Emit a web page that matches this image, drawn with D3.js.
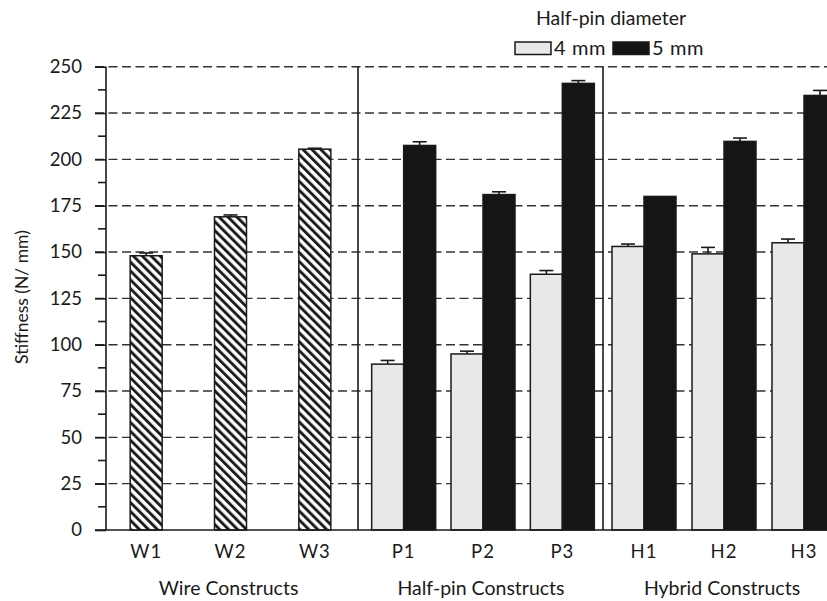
<!DOCTYPE html>
<html lang="en">
<head>
  <meta charset="UTF-8">
  <title>Stiffness by construct</title>
  <script src="https://d3js.org/d3.v7.min.js"></script>
  <style>
    body { margin: 0; background: #fff; }
    svg { display: block; font-family: Lato, "Open Sans", sans-serif; }
  </style>
</head>
<body>
  <div id="chart"></div>
  <script>
    // values
    const groups = ["Wire Constructs", "Half-pin Constructs", "Hybrid Constructs"];
    const series = ["4 mm", "5 mm"];

    const wireLabels = ["W1", "W2", "W3"];
    const wireValues = [148, 169, 205.5];
    const wireErrors = [1.5, 1, 0.5];

    const pinLabels = ["P1", "P2", "P3"];
    const pin4 = [89.5, 95, 138];
    const pin4Err = [2, 1.5, 2];
    const pin5 = [207.5, 181, 241];
    const pin5Err = [2, 1.5, 1.5];

    const hybridLabels = ["H1", "H2", "H3"];
    const hyb4 = [153, 149, 155];
    const hyb4Err = [1.3, 3.5, 2];
    const hyb5 = [180, 209.7, 234.5];
    const hyb5Err = [0, 1.8, 2.7];

    const yTicks = d3.range(0, 251, 25);
    const yMinor = d3.range(12.5, 250, 25);

    const width = 827, height = 601;
    const svg = d3.select("#chart").append("svg").attr("width", width).attr("height", height);

    const y = d3.scaleLinear().domain([0, 250]).range([530, 66.7]);

    // panel layout (pixel ranges for each group's categories, and its axis line)
    const panelRange = [[104, 357], [364, 602], [604, 844]];
    const panelAxis = [106, 358, 603];
    const barW = 32;
    const ink = "#1a1a1a";
    const fs = 18.5;

    const defs = svg.append("defs");
    const pat = defs.append("pattern").attr("id", "hatch")
      .attr("patternUnits", "userSpaceOnUse").attr("width", 6.3).attr("height", 6.3)
      .attr("patternTransform", "rotate(-45)");
    pat.append("rect").attr("width", 6.3).attr("height", 6.3).attr("fill", "#fff");
    pat.append("line").attr("x1", 1.5).attr("x2", 1.5).attr("y1", 0).attr("y2", 6.3)
      .attr("stroke", ink).attr("stroke-width", 2.9);

    // dashed gridlines
    svg.append("g").selectAll("line").data(yTicks.filter(d => d > 0)).join("line")
      .attr("x1", 95).attr("x2", width)
      .attr("y1", d => y(d)).attr("y2", d => y(d))
      .attr("stroke", "#333").attr("stroke-width", 1.4).attr("stroke-dasharray", "9,4.5");

    const panels = [
      { labels: wireLabels, data: [{ key: null, values: wireValues, errs: wireErrors }] },
      { labels: pinLabels, data: [{ key: "4 mm", values: pin4, errs: pin4Err }, { key: "5 mm", values: pin5, errs: pin5Err }] },
      { labels: hybridLabels, data: [{ key: "4 mm", values: hyb4, errs: hyb4Err }, { key: "5 mm", values: hyb5, errs: hyb5Err }] }
    ];

    const sub = d3.scaleBand().domain(series).range([-barW, barW]);
    const fillFor = k => k === null ? "url(#hatch)" : (k === "4 mm" ? "#e8e8e8" : "#151515");

    panels.forEach((p, pi) => {
      const x = d3.scaleBand().domain(p.labels).range(panelRange[pi]);
      const cx = d => x(d) + x.bandwidth() / 2;
      const g = svg.append("g");

      const bars = [];
      p.data.forEach(s => {
        p.labels.forEach((lab, i) => {
          const left = s.key === null ? cx(lab) - barW / 2 : cx(lab) + sub(s.key);
          bars.push({ key: s.key, x: left, v: s.values[i], e: s.errs[i] });
        });
      });

      // error bars (upper only)
      const eb = g.append("g").selectAll("g").data(bars.filter(d => d.e > 0)).join("g")
        .attr("stroke", ink).attr("stroke-width", 1.6);
      eb.append("line").attr("x1", d => d.x + barW / 2).attr("x2", d => d.x + barW / 2)
        .attr("y1", d => y(d.v)).attr("y2", d => y(d.v + d.e));
      eb.append("line").attr("x1", d => d.x + barW / 2 - 7).attr("x2", d => d.x + barW / 2 + 7)
        .attr("y1", d => y(d.v + d.e)).attr("y2", d => y(d.v + d.e));

      g.append("g").selectAll("rect").data(bars).join("rect")
        .attr("x", d => d.x).attr("width", barW)
        .attr("y", d => y(d.v)).attr("height", d => y(0) - y(d.v))
        .attr("fill", d => fillFor(d.key))
        .attr("stroke", ink).attr("stroke-width", 1.5);

      // panel axis line
      svg.append("line").attr("x1", panelAxis[pi]).attr("x2", panelAxis[pi])
        .attr("y1", y(250)).attr("y2", y(0)).attr("stroke", ink).attr("stroke-width", 1.6);

      // category labels
      svg.append("g").selectAll("text").data(p.labels).join("text")
        .attr("x", d => cx(d)).attr("y", 558).attr("text-anchor", "middle")
        .attr("font-size", fs).attr("letter-spacing", 1).attr("fill", ink).text(d => d);

      svg.append("text").attr("x", cx(p.labels[1]) - 2).attr("y", 595)
        .attr("text-anchor", "middle").attr("font-size", 19.5).attr("fill", ink).text(groups[pi]);
    });

    // baseline
    svg.append("line").attr("x1", 95).attr("x2", width).attr("y1", y(0)).attr("y2", y(0))
      .attr("stroke", ink).attr("stroke-width", 1.6);

    // y axis of first panel
    const yAxis = svg.append("g").attr("transform", `translate(${panelAxis[0]},0)`)
      .call(d3.axisLeft(y).tickValues(yTicks).tickSize(11).tickPadding(13));
    yAxis.select(".domain").remove();
    yAxis.selectAll(".tick line").attr("stroke", ink).attr("stroke-width", 1.6);
    yAxis.selectAll(".tick text").attr("font-size", fs).attr("font-family", "Lato, sans-serif").attr("fill", ink);
    svg.append("g").selectAll("line").data(yMinor).join("line")
      .attr("x1", panelAxis[0] - 8).attr("x2", panelAxis[0])
      .attr("y1", d => y(d)).attr("y2", d => y(d)).attr("stroke", ink).attr("stroke-width", 1.6);

    svg.append("text").attr("transform", "translate(28,297) rotate(-90)")
      .attr("text-anchor", "middle").attr("font-size", 17.5).attr("fill", ink).text("Stiffness (N/ mm)");

    // legend
    svg.append("text").attr("x", 611).attr("y", 25).attr("text-anchor", "middle")
      .attr("font-size", 19.5).attr("fill", ink).text("Half-pin diameter");
    const leg = svg.append("g").selectAll("g").data(series).join("g")
      .attr("transform", (d, i) => `translate(${515 + i * 98},42)`);
    leg.append("rect").attr("width", 36).attr("height", 12.5)
      .attr("fill", d => fillFor(d)).attr("stroke", ink).attr("stroke-width", 1.5);
    leg.append("text").attr("x", 39).attr("y", 13).attr("font-size", 20).attr("letter-spacing", 0.6)
      .attr("fill", ink).text(d => d);
  </script>
</body>
</html>
